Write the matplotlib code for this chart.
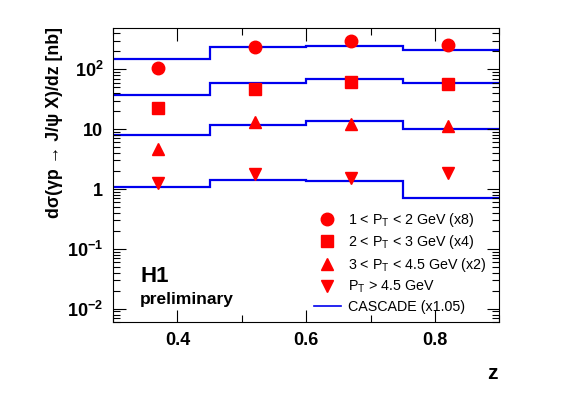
"""H1 preliminary: J/psi photoproduction dsigma/dz in PT bins vs CASCADE."""

import matplotlib

matplotlib.use("Agg")
import matplotlib.pyplot as plt
import numpy as np
from matplotlib.ticker import FixedLocator, LogLocator, NullFormatter
from matplotlib.lines import Line2D

plt.rcParams["font.family"] = ["Liberation Sans", "DejaVu Sans"]
plt.rcParams["mathtext.default"] = "regular"

# bin edges of the CASCADE histograms and data point positions
z_edges = [0.3, 0.45, 0.6, 0.75, 0.9]
z_points = [0.37, 0.52, 0.67, 0.82]

# data, already scaled as in the legend
pt1_data = [106, 233, 293, 257]     # 1 < PT < 2 GeV (x8)
pt2_data = [22.6, 47.5, 61.4, 56.9]  # 2 < PT < 3 GeV (x4)
pt3_data = [4.6, 13.2, 12.3, 11.2]   # 3 < PT < 4.5 GeV (x2)
pt4_data = [1.24, 1.76, 1.51, 1.83]  # PT > 4.5 GeV

# CASCADE (x1.05)
pt1_mc = [150, 233, 242, 207]
pt2_mc = [37.7, 59, 70, 60]
pt3_mc = [8.0, 11.7, 13.7, 9.9]
pt4_mc = [1.07, 1.43, 1.36, 0.72]

labels = [
    "1 < P$_T$ < 2 GeV (x8)",
    "2 < P$_T$ < 3 GeV (x4)",
    "3 < P$_T$ < 4.5 GeV (x2)",
    "P$_T$ > 4.5 GeV",
]
markers = ["o", "s", "^", "v"]

fig = plt.figure(figsize=(5.67, 3.95), dpi=100)
ax = fig.add_axes([0.1993, 0.1848, 0.6814, 0.7443])

for mc in (pt1_mc, pt2_mc, pt3_mc, pt4_mc):
    ax.stairs(mc, z_edges, color="#0000ee", lw=1.6, baseline=None)

for vals, mk in zip((pt1_data, pt2_data, pt3_data, pt4_data), markers):
    ax.plot(z_points, vals, ls="none", marker=mk, ms=9, color="red", mec="red")

ax.set_yscale("log")
ax.set_xlim(0.3, 0.9)
ax.set_ylim(0.006, 490)

ax.xaxis.set_major_locator(FixedLocator([0.4, 0.6, 0.8]))
ax.xaxis.set_minor_locator(FixedLocator([0.3, 0.5, 0.7, 0.9]))
ax.yaxis.set_minor_locator(LogLocator(base=10, subs=np.arange(2, 10), numticks=20))
ax.yaxis.set_minor_formatter(NullFormatter())
ax.set_yticks([0.01, 0.1, 1, 10, 100])
ax.set_yticklabels(["10$^{-2}$", "10$^{-1}$", "1", "10", "10$^{2}$"])
ax.set_xticklabels(["0.4", "0.6", "0.8"])

ax.tick_params(which="both", direction="in", top=True, right=True, width=0.8)
ax.tick_params(which="major", length=9, labelsize=13, pad=7)
ax.tick_params(which="minor", length=5)
for lab in ax.get_xticklabels() + ax.get_yticklabels():
    lab.set_fontweight("bold")

# ROOT style: y title aligned to the top of the frame
ax.text(-0.152, 1.005, "dσ(γp → J/ψ X)/dz [nb]", transform=ax.transAxes,
        rotation=90, ha="center", va="top", fontsize=12.8, fontweight="bold")
ax.text(0.995, -0.175, "z", transform=ax.transAxes, ha="right", va="center",
        fontsize=15, fontweight="bold")

ax.text(0.07, 0.155, "H1", transform=ax.transAxes, fontsize=16, fontweight="bold",
        va="center")
ax.text(0.07, 0.075, "preliminary", transform=ax.transAxes, fontsize=12.5,
        fontweight="bold", va="center")

handles = [
    Line2D([], [], ls="none", marker=mk, ms=9, color="red") for mk in markers
]
handles.append(Line2D([], [], color="#0000ee", lw=1.2))
ax.legend(handles, labels + ["CASCADE (x1.05)"], loc="lower right",
          bbox_to_anchor=(1.0, -0.015), frameon=False, fontsize=10.3,
          handlelength=1.9, handletextpad=0.5, labelspacing=0.32)

fig.savefig("out.png", dpi=100)
